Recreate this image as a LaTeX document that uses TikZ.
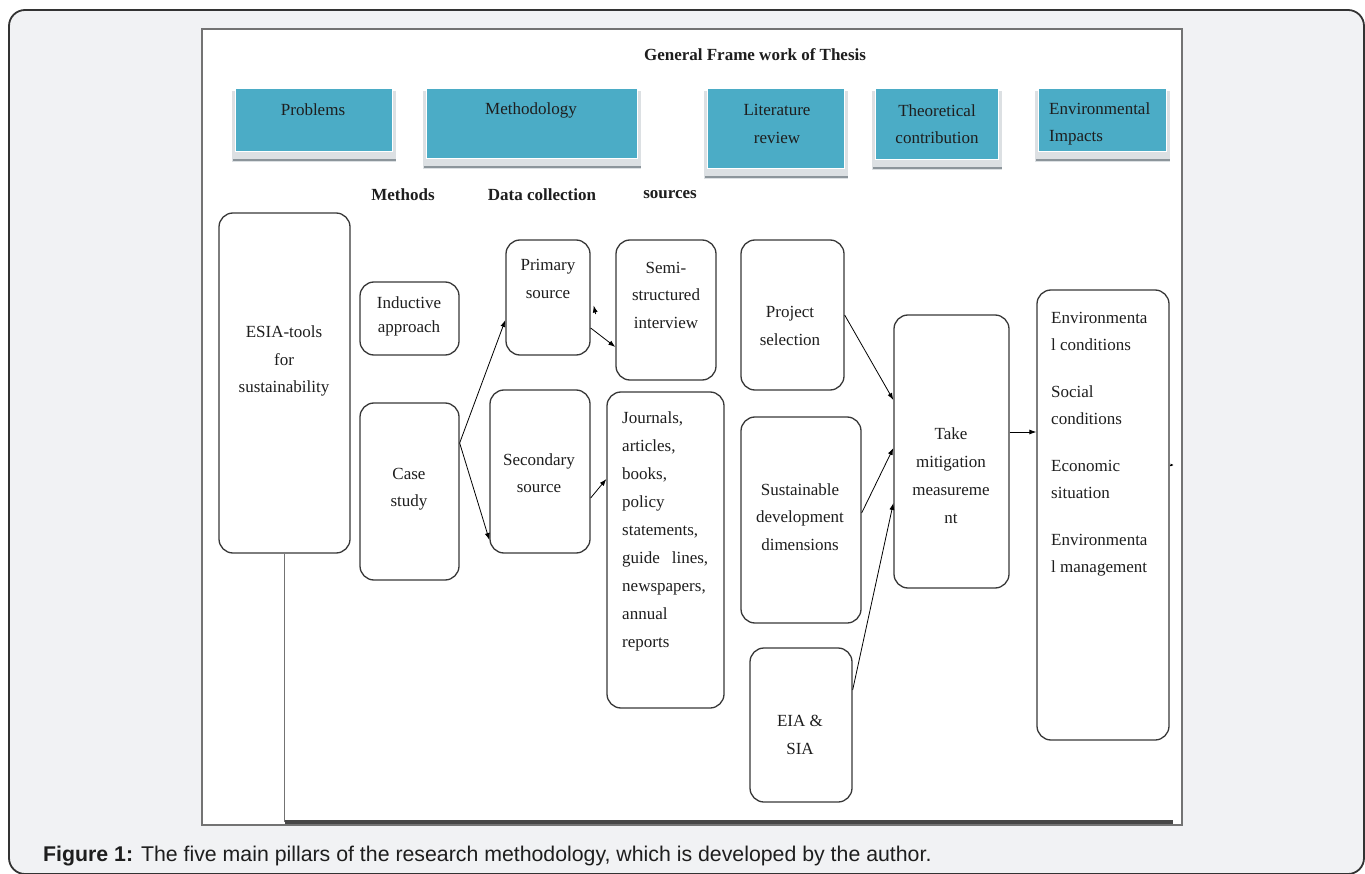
\documentclass[tikz,border=0pt]{standalone}
\usepackage{fontspec}
\setmainfont{Liberation Serif}
\newfontfamily\capfont{Liberation Sans}
\usetikzlibrary{arrows.meta,fit,calc}
\definecolor{bggray}{HTML}{F1F2F4}
\definecolor{teal1}{HTML}{4BACC6}
\definecolor{tshadow}{HTML}{DCE0E3}
\definecolor{tline}{HTML}{8C959B}
\definecolor{ink}{HTML}{1E1E1E}
\newcommand{\tealbox}[5]{%
  \fill[tshadow] (#2-3,#3+3) rectangle (#4+4,#5+11);
  \draw[tline, line width=2.5pt] (#2-2,#5+9) -- (#4+4,#5+9);
  \node[tbox, fit={(#2,#3) (#4,#5)}] (#1) {};
}
\begin{document}
\begin{tikzpicture}[x=1pt,y=-1pt,
  rbox/.style={draw=black!78, line width=1.3pt, rounded corners=14pt, fill=white, inner sep=0pt},
  tbox/.style={fill=teal1, draw=white, line width=0.8pt, inner sep=0pt},
  txt/.style={font=\fontsize{17}{27.5}\selectfont, text=ink, align=center, inner sep=0pt},
  ltxt/.style={txt, align=left, anchor=west},
  hdr/.style={font=\fontsize{17}{20}\selectfont\bfseries, text=ink, inner sep=0pt},
  arr/.style={draw=black, line width=0.8pt, -{Latex[length=7pt,width=5pt]}}
]
\useasboundingbox (0,0) rectangle (1365,874);
\fill[white] (0,0) rectangle (1365,874);
% outer frame
\draw[draw=black!80, line width=1.8pt, fill=bggray, rounded corners=16pt] (9,10) rectangle (1364,874);
% inner panel
\draw[draw=black!55, line width=1.2pt, fill=white] (202,29) rectangle (1182,825);

% title
\node[hdr] (title) at (755,55) {General Frame work of Thesis};

% teal boxes
\tealbox{prob}{235}{88}{392}{151}
\tealbox{meth}{426}{88}{637}{158}
\tealbox{lit}{707}{88}{844}{168}
\tealbox{theo}{875}{88}{998}{159}
\tealbox{env}{1038}{88}{1166}{151}
\node[txt] (probT) at (313,110) {Problems};
\node[txt] (methT) at (531,110) {Methodology};
\node[txt] (litT) at (777,124) {Literature\\review};
\node[txt] (theoT) at (937,124) {Theoretical\\contribution};
\node[ltxt] (envT) at (1049,124) {Environmental\\Impacts};

% column headers
\node[hdr] (hMethods) at (403,195) {Methods};
\node[hdr] (hData) at (542,195) {Data collection};
\node[hdr] (hSources) at (670,195) {sources};

% rounded boxes
\node[rbox, fit={(219,213) (350,553)}] (esia) {};
\node[rbox, fit={(360,282) (459,355)}] (induct) {};
\node[rbox, fit={(360,403) (459,580)}] (case) {};
\node[rbox, fit={(506,240) (590,355)}] (primary) {};
\node[rbox, fit={(490,390) (590,553)}] (secondary) {};
\node[rbox, fit={(616,240) (716,380)}] (semi) {};
\node[rbox, fit={(607,392) (724,708)}] (journals) {};
\node[rbox, fit={(741,240) (844,390)}] (project) {};
\node[rbox, fit={(741,417) (861,623)}] (sust) {};
\node[rbox, fit={(750,648) (852,802)}] (eia) {};
\node[rbox, fit={(894,315) (1009,588)}] (take) {};
\node[rbox, fit={(1037,290) (1169,740)}] (result) {};

% box texts
\node[txt] (esiaT) at (284,361) {ESIA-tools\\for\\sustainability};
\node[txt, font=\fontsize{17}{24}\selectfont] (inductT) at (409,316) {Inductive\\approach};
\node[txt] (caseT) at (409,489) {Case\\study};
\node[txt] (primaryT) at (548,279) {Primary\\source};
\node[txt] (secondaryT) at (539,473) {Secondary\\source};
\node[txt] (semiT) at (666,295) {Semi-\\structured\\interview};
\node[ltxt, font=\fontsize{17}{28}\selectfont] (journalsT) at (622,531) {Journals,\\articles,\\books,\\policy\\statements,\\\makebox[86pt][s]{guide lines,}\\newspapers,\\annual\\reports};
\node[txt] (projectT) at (790,326) {Project\\selection};
\node[txt] (sustT) at (800,517) {Sustainable\\development\\dimensions};
\node[txt] (eiaT) at (800,735) {EIA \&\\SIA};
\node[txt, font=\fontsize{17}{28}\selectfont] (takeT) at (951,476) {Take\\mitigation\\measureme\\nt};
\node[ltxt, font=\fontsize{17}{27}\selectfont] (resultT) at (1051,444) {Environmenta\\l conditions\\[20pt]Social\\conditions\\[20pt]Economic\\situation\\[20pt]Environmenta\\l management};

% connectors
\draw[arr] ([yshift=48.5pt]case.east) -- ([yshift=-22.5pt]primary.west);
\draw[arr] ([yshift=48.5pt]case.east) -- ([yshift=-68.5pt]secondary.west);
\draw[arr] ([yshift=-30.5pt]primary.east) -- ([yshift=-37pt]semi.west);
\draw[arr] ([xshift=5pt,yshift=-16.5pt]primary.east) -- ([xshift=3pt,yshift=-8pt]primary.east);
\draw[arr] ([yshift=-26.5pt]secondary.east) -- ([yshift=71pt]journals.west);
\draw[arr] (project.east) -- ([yshift=51.5pt]take.west);
\draw[arr] ([yshift=7pt]sust.east) -- ([yshift=3.5pt]take.west);
\draw[arr] ([yshift=35pt]eia.east) -- ([yshift=-51.5pt]take.west);
\draw[arr] ([yshift=19.5pt]take.east) -- ([yshift=83pt]result.west);
\draw[draw=black, line width=0.8pt, -{Latex[length=3pt,width=3pt]}] ([yshift=50pt]result.east) -- ([xshift=4pt,yshift=50pt]result.east);

% bottom frame line
\coordinate (bl) at (284.5,822);
\coordinate (br) at (1173,822);
\draw[draw=black!55, line width=1.6pt] (esia.south) -- (bl);
\draw[draw=black!72, line width=3.5pt] (bl) -- (br);

% caption
\node[anchor=west, inner sep=0pt, font=\capfont\fontsize{21.3}{25}\selectfont, text=ink] (caption) at (43,856)
  {\textbf{Figure 1:} The five main pillars of the research methodology, which is developed by the author.};
\end{tikzpicture}
\end{document}
